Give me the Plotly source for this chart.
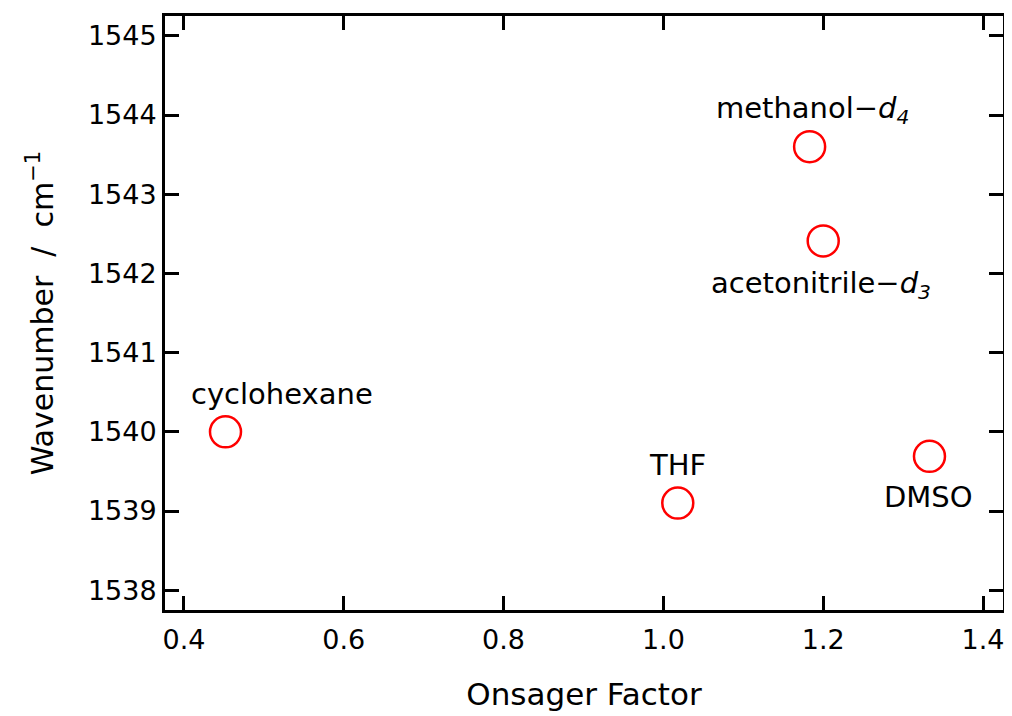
import plotly.graph_objects as go

solvents = ["cyclohexane", "THF", "methanol-d4", "acetonitrile-d3", "DMSO"]
onsager = [0.452, 1.018, 1.183, 1.200, 1.333]
wavenumber = [1540.00, 1539.10, 1543.60, 1542.41, 1539.69]
label_text = ["cyclohexane", "THF", "methanol\u2212<i>d<sub>4</sub></i>",
              "acetonitrile\u2212<i>d<sub>3</sub></i>", "DMSO"]
label_dx = [57, 0, 3, -2, -1]
label_dy = [38, 38, 37, -44, -41]

FONT = "DejaVu Sans"

fig = go.Figure()
fig.add_trace(go.Scatter(
    x=onsager, y=wavenumber, mode="markers",
    marker=dict(symbol="circle-open", size=31, color="#ff0000",
                line=dict(width=2.5, color="#ff0000")),
    showlegend=False, hoverinfo="skip"))

for x, y, t, dx, dy in zip(onsager, wavenumber, label_text, label_dx, label_dy):
    fig.add_annotation(x=x, y=y, text=t, showarrow=False, xshift=dx, yshift=dy,
                       xanchor="center", yanchor="middle",
                       font=dict(family=FONT, size=29, color="black"))

axis_common = dict(showline=True, linewidth=3, linecolor="black", mirror="allticks",
                   ticks="inside", ticklen=14, tickwidth=3, tickcolor="black",
                   showgrid=False, zeroline=False,
                   tickfont=dict(family=FONT, size=27, color="black"))

fig.update_xaxes(range=[0.3763, 1.425], tick0=0.4, dtick=0.2, tickformat=".1f",
                 ticklabelstandoff=4,
                 title=dict(text="Onsager Factor", standoff=29,
                            font=dict(family=FONT, size=31, color="black")),
                 **axis_common)
fig.update_yaxes(range=[1537.75, 1545.25], tick0=1538, dtick=1,
                 title=dict(text="Wavenumber  /  cm<sup>\u22121</sup>", standoff=26,
                            font=dict(family=FONT, size=30, color="black")),
                 **axis_common)

fig.update_layout(width=1004, height=708,
                  margin=dict(l=157, r=9, t=8, b=106, autoexpand=False),
                  plot_bgcolor="white", paper_bgcolor="white")

fig.write_html("out.html")
